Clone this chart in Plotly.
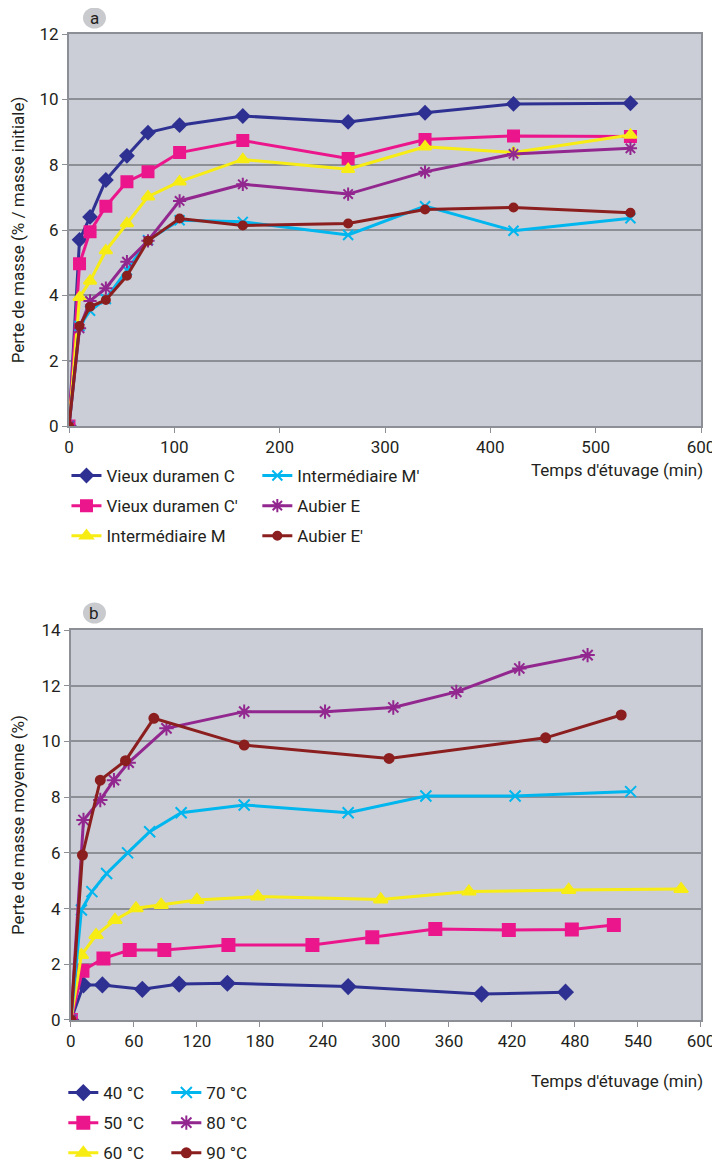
import plotly.graph_objects as go

# ---------------- Panel a data ----------------
time_a = [0, 10, 20, 35, 55, 75, 105, 165, 265, 338, 422, 533]
vieux_C = [0, 5.70, 6.40, 7.53, 8.27, 8.98, 9.21, 9.49, 9.31, 9.59, 9.86, 9.88]
vieux_Cp = [0, 4.97, 5.95, 6.73, 7.48, 7.78, 8.37, 8.74, 8.19, 8.77, 8.88, 8.86]
inter_M = [0, 3.94, 4.44, 5.37, 6.20, 7.02, 7.48, 8.16, 7.86, 8.55, 8.37, 8.91]
inter_Mp = [0, 3.06, 3.53, 3.89, 4.77, 5.69, 6.30, 6.25, 5.85, 6.73, 5.98, 6.36]
aubier_E = [0, 2.99, 3.83, 4.22, 5.03, 5.67, 6.89, 7.40, 7.10, 7.78, 8.33, 8.50]
aubier_Ep = [0, 3.06, 3.65, 3.86, 4.60, 5.67, 6.35, 6.14, 6.20, 6.63, 6.69, 6.53]
names_a = ["Vieux duramen C", "Vieux duramen C'", "Intermédiaire M",
           "Intermédiaire M'", "Aubier E", "Aubier E'"]

# ---------------- Panel b data ----------------
t40 = [0, 12, 30, 68, 103, 149, 264, 391, 471]
v40 = [0, 1.26, 1.26, 1.10, 1.29, 1.32, 1.20, 0.93, 1.00]
t50 = [0, 11, 31, 56, 89, 150, 230, 287, 347, 417, 477, 517]
v50 = [0, 1.77, 2.21, 2.51, 2.51, 2.69, 2.69, 2.97, 3.27, 3.23, 3.25, 3.41]
t60 = [0, 10, 24, 42, 62, 86, 120, 178, 295, 379, 474, 581]
v60 = [0, 2.33, 3.05, 3.59, 4.01, 4.13, 4.31, 4.43, 4.33, 4.61, 4.67, 4.70]
t70 = [0, 10, 20, 34, 54, 75, 105, 165, 264, 338, 423, 533]
v70 = [0, 3.95, 4.61, 5.26, 6.00, 6.76, 7.44, 7.72, 7.44, 8.04, 8.04, 8.20]
t80 = [0, 12, 28, 41, 55, 91, 165, 242, 307, 367, 427, 492]
v80 = [0, 7.18, 7.90, 8.61, 9.24, 10.47, 11.07, 11.07, 11.22, 11.78, 12.62, 13.10]
t90 = [0, 11, 28, 52, 79, 165, 303, 452, 524]
v90 = [0, 5.92, 8.61, 9.31, 10.83, 9.87, 9.39, 10.13, 10.95]
names_b = ["40 °C", "50 °C", "60 °C", "70 °C", "80 °C", "90 °C"]

colors = ["#2E3192", "#EC168C", "#F7EC13", "#00B6EE", "#92278F", "#8B1E1E"]
symbols = ["diamond", "square", "triangle-up", "x-thin", "asterisk", "circle"]
sizes = [10, 11, 11, 10, 11, 8]

FONT = "Roboto, Liberation Sans, sans-serif"
TXT = "#231F20"

fig = go.Figure()

series_a = [vieux_C, vieux_Cp, inter_M, inter_Mp, aubier_E, aubier_Ep]
for i, ys in enumerate(series_a):
    fig.add_trace(go.Scatter(
        x=time_a, y=ys, name=names_a[i], mode="lines+markers",
        line=dict(color=colors[i], width=3),
        marker=dict(symbol=symbols[i], size=sizes[i], color=colors[i],
                    line=dict(color=colors[i], width=2)),
        xaxis="x", yaxis="y",
        legend="legend" if i < 3 else "legend2", legendgroup="a%d" % i))

series_b = [(t40, v40), (t50, v50), (t60, v60), (t70, v70), (t80, v80), (t90, v90)]
for i, (xs, ys) in enumerate(series_b):
    fig.add_trace(go.Scatter(
        x=xs, y=ys, name=names_b[i], mode="lines+markers",
        line=dict(color=colors[i], width=3),
        marker=dict(symbol=symbols[i], size=sizes[i] + 1, color=colors[i],
                    line=dict(color=colors[i], width=2)),
        xaxis="x2", yaxis="y2",
        legend="legend3" if i < 3 else "legend4", legendgroup="b%d" % i))

AX = "#8C9096"
axis_common = dict(showline=True, linecolor=AX, linewidth=2, mirror=True,
                   ticks="outside", ticklen=5, tickcolor=AX, tickwidth=1,
                   tickfont=dict(family=FONT, size=17, color=TXT),
                   zeroline=False)

leg_common = dict(orientation="v", xanchor="left", yanchor="top",
                  font=dict(family=FONT, size=17, color=TXT),
                  bgcolor="rgba(0,0,0,0)", itemwidth=30, tracegroupgap=5)

# The page body adds an 8 px offset; the figure is sized so it fits the window.
fig.update_layout(
    width=712, height=1155,
    margin=dict(l=61, r=19, t=26, b=143, autoexpand=False),
    paper_bgcolor="white", plot_bgcolor="#CBCED6",
    font=dict(family=FONT, color=TXT),
    xaxis=dict(domain=[0, 1], anchor="y", range=[0, 600], dtick=100,
               showgrid=False, **axis_common),
    yaxis=dict(domain=[0.6024, 1], anchor="x", range=[0, 12], dtick=2,
               showgrid=True, gridcolor=AX, gridwidth=2,
               title=dict(text="Perte de masse (% / masse initiale)",
                          font=dict(family=FONT, size=17, color=TXT), standoff=12),
               **axis_common),
    xaxis2=dict(domain=[0.003, 1], anchor="y2", range=[0, 600], dtick=60,
                showgrid=False, **axis_common),
    yaxis2=dict(domain=[0, 0.3955], anchor="x2", range=[0, 14], dtick=2,
                showgrid=True, gridcolor=AX, gridwidth=2,
                title=dict(text="Perte de masse moyenne (%)",
                           font=dict(family=FONT, size=17, color=TXT), standoff=12),
                **axis_common),
    legend=dict(x=-0.004, y=0.570, **leg_common),
    legend2=dict(x=0.298, y=0.570, **leg_common),
    legend3=dict(x=-0.009, y=-0.0558, **leg_common),
    legend4=dict(x=0.154, y=-0.0558, **leg_common),
    showlegend=True,
)

# time axis titles (right aligned under the x axis)
for ypos in [0.5578, -0.0619]:
    fig.add_annotation(xref="paper", yref="paper", x=1.006, y=ypos,
                       xanchor="right", yanchor="middle", showarrow=False,
                       text="Temps d'étuvage (min)",
                       font=dict(family=FONT, size=17, color=TXT))

# panel labels (grey disks with letters)
for lbl, ypos in [("a", 1.0162), ("b", 0.4128)]:
    fig.add_shape(type="circle", xref="paper", yref="paper",
                  xsizemode="pixel", ysizemode="pixel",
                  xanchor=0.0403, yanchor=ypos,
                  x0=-11.5, x1=11.5, y0=-10.5, y1=10.5,
                  fillcolor="#C9CACE", line=dict(width=0))
    fig.add_annotation(xref="paper", yref="paper", x=0.0403, y=ypos,
                       xanchor="center", yanchor="middle", showarrow=False,
                       height=16, borderpad=0,
                       text=lbl, font=dict(family=FONT, size=17, color=TXT))

fig.write_html("out.html")
